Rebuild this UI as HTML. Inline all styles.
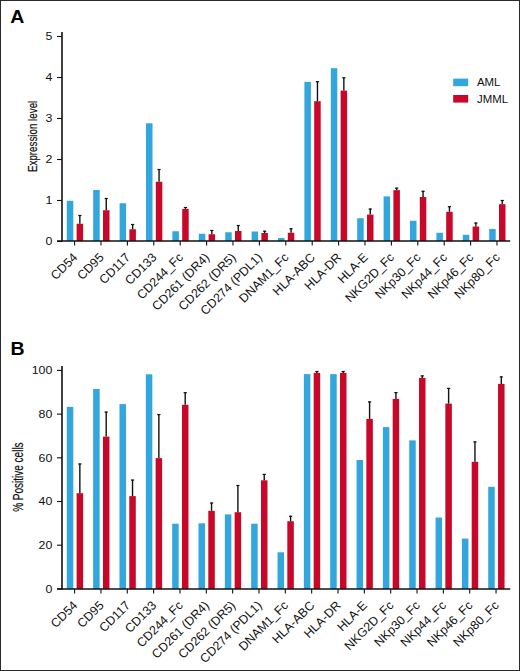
<!DOCTYPE html>
<html><head><meta charset="utf-8"><style>
html,body{margin:0;padding:0;background:#fff;width:520px;height:671px;overflow:hidden;font-family:"Liberation Sans",sans-serif;}
</style></head><body>
<svg width="520" height="671" viewBox="0 0 520 671" style="display:block">
<rect x="0" y="0" width="520" height="671" fill="#fff"/>
<g font-family="Liberation Sans, sans-serif" fill="#111">
<rect x="66.80" y="200.80" width="6.5" height="40.20" fill="#33a6dd"/>
<rect x="76.60" y="223.75" width="6.5" height="17.25" fill="#c70828"/>
<line x1="79.85" y1="215.00" x2="79.85" y2="223.75" stroke="#111" stroke-width="1.4"/>
<line x1="78.25" y1="215.50" x2="81.45" y2="215.50" stroke="#111" stroke-width="1.2"/>
<rect x="93.20" y="190.00" width="6.5" height="51.00" fill="#33a6dd"/>
<rect x="103.00" y="210.25" width="6.5" height="30.75" fill="#c70828"/>
<line x1="106.25" y1="198.00" x2="106.25" y2="210.25" stroke="#111" stroke-width="1.4"/>
<line x1="104.65" y1="198.50" x2="107.85" y2="198.50" stroke="#111" stroke-width="1.2"/>
<rect x="119.60" y="203.25" width="6.5" height="37.75" fill="#33a6dd"/>
<rect x="129.40" y="229.25" width="6.5" height="11.75" fill="#c70828"/>
<line x1="132.65" y1="224.00" x2="132.65" y2="229.25" stroke="#111" stroke-width="1.4"/>
<line x1="131.05" y1="224.50" x2="134.25" y2="224.50" stroke="#111" stroke-width="1.2"/>
<rect x="146.00" y="123.30" width="6.5" height="117.70" fill="#33a6dd"/>
<rect x="155.80" y="181.75" width="6.5" height="59.25" fill="#c70828"/>
<line x1="159.05" y1="169.00" x2="159.05" y2="181.75" stroke="#111" stroke-width="1.4"/>
<line x1="157.45" y1="169.50" x2="160.65" y2="169.50" stroke="#111" stroke-width="1.2"/>
<rect x="172.40" y="231.25" width="6.5" height="9.75" fill="#33a6dd"/>
<rect x="182.20" y="209.00" width="6.5" height="32.00" fill="#c70828"/>
<line x1="185.45" y1="207.00" x2="185.45" y2="209.00" stroke="#111" stroke-width="1.4"/>
<line x1="183.85" y1="207.50" x2="187.05" y2="207.50" stroke="#111" stroke-width="1.2"/>
<rect x="198.80" y="233.75" width="6.5" height="7.25" fill="#33a6dd"/>
<rect x="208.60" y="234.25" width="6.5" height="6.75" fill="#c70828"/>
<line x1="211.85" y1="230.00" x2="211.85" y2="234.25" stroke="#111" stroke-width="1.4"/>
<line x1="210.25" y1="230.50" x2="213.45" y2="230.50" stroke="#111" stroke-width="1.2"/>
<rect x="225.20" y="232.25" width="6.5" height="8.75" fill="#33a6dd"/>
<rect x="235.00" y="231.00" width="6.5" height="10.00" fill="#c70828"/>
<line x1="238.25" y1="225.00" x2="238.25" y2="231.00" stroke="#111" stroke-width="1.4"/>
<line x1="236.65" y1="225.50" x2="239.85" y2="225.50" stroke="#111" stroke-width="1.2"/>
<rect x="251.60" y="231.50" width="6.5" height="9.50" fill="#33a6dd"/>
<rect x="261.40" y="233.00" width="6.5" height="8.00" fill="#c70828"/>
<line x1="264.65" y1="230.75" x2="264.65" y2="233.00" stroke="#111" stroke-width="1.4"/>
<line x1="263.05" y1="231.25" x2="266.25" y2="231.25" stroke="#111" stroke-width="1.2"/>
<rect x="278.00" y="238.00" width="6.5" height="3.00" fill="#33a6dd"/>
<rect x="287.80" y="232.75" width="6.5" height="8.25" fill="#c70828"/>
<line x1="291.05" y1="228.25" x2="291.05" y2="232.75" stroke="#111" stroke-width="1.4"/>
<line x1="289.45" y1="228.75" x2="292.65" y2="228.75" stroke="#111" stroke-width="1.2"/>
<rect x="304.40" y="81.90" width="6.5" height="159.10" fill="#33a6dd"/>
<rect x="314.20" y="101.20" width="6.5" height="139.80" fill="#c70828"/>
<line x1="317.45" y1="81.20" x2="317.45" y2="101.20" stroke="#111" stroke-width="1.4"/>
<line x1="315.85" y1="81.70" x2="319.05" y2="81.70" stroke="#111" stroke-width="1.2"/>
<rect x="330.80" y="68.20" width="6.5" height="172.80" fill="#33a6dd"/>
<rect x="340.60" y="90.60" width="6.5" height="150.40" fill="#c70828"/>
<line x1="343.85" y1="77.30" x2="343.85" y2="90.60" stroke="#111" stroke-width="1.4"/>
<line x1="342.25" y1="77.80" x2="345.45" y2="77.80" stroke="#111" stroke-width="1.2"/>
<rect x="357.20" y="218.20" width="6.5" height="22.80" fill="#33a6dd"/>
<rect x="367.00" y="214.60" width="6.5" height="26.40" fill="#c70828"/>
<line x1="370.25" y1="208.60" x2="370.25" y2="214.60" stroke="#111" stroke-width="1.4"/>
<line x1="368.65" y1="209.10" x2="371.85" y2="209.10" stroke="#111" stroke-width="1.2"/>
<rect x="383.60" y="196.40" width="6.5" height="44.60" fill="#33a6dd"/>
<rect x="393.40" y="190.10" width="6.5" height="50.90" fill="#c70828"/>
<line x1="396.65" y1="187.70" x2="396.65" y2="190.10" stroke="#111" stroke-width="1.4"/>
<line x1="395.05" y1="188.20" x2="398.25" y2="188.20" stroke="#111" stroke-width="1.2"/>
<rect x="410.00" y="220.80" width="6.5" height="20.20" fill="#33a6dd"/>
<rect x="419.80" y="197.00" width="6.5" height="44.00" fill="#c70828"/>
<line x1="423.05" y1="190.80" x2="423.05" y2="197.00" stroke="#111" stroke-width="1.4"/>
<line x1="421.45" y1="191.30" x2="424.65" y2="191.30" stroke="#111" stroke-width="1.2"/>
<rect x="436.40" y="232.80" width="6.5" height="8.20" fill="#33a6dd"/>
<rect x="446.20" y="211.80" width="6.5" height="29.20" fill="#c70828"/>
<line x1="449.45" y1="206.20" x2="449.45" y2="211.80" stroke="#111" stroke-width="1.4"/>
<line x1="447.85" y1="206.70" x2="451.05" y2="206.70" stroke="#111" stroke-width="1.2"/>
<rect x="462.80" y="234.80" width="6.5" height="6.20" fill="#33a6dd"/>
<rect x="472.60" y="226.50" width="6.5" height="14.50" fill="#c70828"/>
<line x1="475.85" y1="222.60" x2="475.85" y2="226.50" stroke="#111" stroke-width="1.4"/>
<line x1="474.25" y1="223.10" x2="477.45" y2="223.10" stroke="#111" stroke-width="1.2"/>
<rect x="489.20" y="229.00" width="6.5" height="12.00" fill="#33a6dd"/>
<rect x="499.00" y="204.20" width="6.5" height="36.80" fill="#c70828"/>
<line x1="502.25" y1="200.00" x2="502.25" y2="204.20" stroke="#111" stroke-width="1.4"/>
<line x1="500.65" y1="200.50" x2="503.85" y2="200.50" stroke="#111" stroke-width="1.2"/>
<line x1="62" y1="32" x2="62" y2="241.5" stroke="#111" stroke-width="1.6"/>
<line x1="57" y1="241" x2="510.2" y2="241" stroke="#111" stroke-width="1.7"/>
<line x1="57" y1="241.50" x2="62" y2="241.50" stroke="#111" stroke-width="1.1"/>
<text x="0" y="0" transform="translate(52.3,245.20) scale(1.2,1)" text-anchor="end" font-size="10.3">0</text>
<line x1="57" y1="200.50" x2="62" y2="200.50" stroke="#111" stroke-width="1.1"/>
<text x="0" y="0" transform="translate(52.3,204.20) scale(1.2,1)" text-anchor="end" font-size="10.3">1</text>
<line x1="57" y1="159.50" x2="62" y2="159.50" stroke="#111" stroke-width="1.1"/>
<text x="0" y="0" transform="translate(52.3,163.20) scale(1.2,1)" text-anchor="end" font-size="10.3">2</text>
<line x1="57" y1="118.50" x2="62" y2="118.50" stroke="#111" stroke-width="1.1"/>
<text x="0" y="0" transform="translate(52.3,122.20) scale(1.2,1)" text-anchor="end" font-size="10.3">3</text>
<line x1="57" y1="77.50" x2="62" y2="77.50" stroke="#111" stroke-width="1.1"/>
<text x="0" y="0" transform="translate(52.3,81.20) scale(1.2,1)" text-anchor="end" font-size="10.3">4</text>
<line x1="57" y1="36.50" x2="62" y2="36.50" stroke="#111" stroke-width="1.1"/>
<text x="0" y="0" transform="translate(52.3,40.20) scale(1.2,1)" text-anchor="end" font-size="10.3">5</text>
<line x1="74.60" y1="241" x2="74.60" y2="245.5" stroke="#111" stroke-width="1.1"/>
<line x1="101.00" y1="241" x2="101.00" y2="245.5" stroke="#111" stroke-width="1.1"/>
<line x1="127.40" y1="241" x2="127.40" y2="245.5" stroke="#111" stroke-width="1.1"/>
<line x1="153.80" y1="241" x2="153.80" y2="245.5" stroke="#111" stroke-width="1.1"/>
<line x1="180.20" y1="241" x2="180.20" y2="245.5" stroke="#111" stroke-width="1.1"/>
<line x1="206.60" y1="241" x2="206.60" y2="245.5" stroke="#111" stroke-width="1.1"/>
<line x1="233.00" y1="241" x2="233.00" y2="245.5" stroke="#111" stroke-width="1.1"/>
<line x1="259.40" y1="241" x2="259.40" y2="245.5" stroke="#111" stroke-width="1.1"/>
<line x1="285.80" y1="241" x2="285.80" y2="245.5" stroke="#111" stroke-width="1.1"/>
<line x1="312.20" y1="241" x2="312.20" y2="245.5" stroke="#111" stroke-width="1.1"/>
<line x1="338.60" y1="241" x2="338.60" y2="245.5" stroke="#111" stroke-width="1.1"/>
<line x1="365.00" y1="241" x2="365.00" y2="245.5" stroke="#111" stroke-width="1.1"/>
<line x1="391.40" y1="241" x2="391.40" y2="245.5" stroke="#111" stroke-width="1.1"/>
<line x1="417.80" y1="241" x2="417.80" y2="245.5" stroke="#111" stroke-width="1.1"/>
<line x1="444.20" y1="241" x2="444.20" y2="245.5" stroke="#111" stroke-width="1.1"/>
<line x1="470.60" y1="241" x2="470.60" y2="245.5" stroke="#111" stroke-width="1.1"/>
<line x1="497.00" y1="241" x2="497.00" y2="245.5" stroke="#111" stroke-width="1.1"/>
<text x="0" y="0" transform="translate(78.20,258.20) rotate(-45) scale(1.0,1)" text-anchor="end" font-size="12.4">CD54</text>
<text x="0" y="0" transform="translate(104.60,258.20) rotate(-45) scale(1.0,1)" text-anchor="end" font-size="12.4">CD95</text>
<text x="0" y="0" transform="translate(131.00,258.20) rotate(-45) scale(1.0,1)" text-anchor="end" font-size="12.4">CD117</text>
<text x="0" y="0" transform="translate(157.40,258.20) rotate(-45) scale(1.0,1)" text-anchor="end" font-size="12.4">CD133</text>
<text x="0" y="0" transform="translate(183.80,258.20) rotate(-45) scale(1.0,1)" text-anchor="end" font-size="12.4">CD244_Fc</text>
<text x="0" y="0" transform="translate(210.20,258.20) rotate(-45) scale(1.0,1)" text-anchor="end" font-size="12.4">CD261 (DR4)</text>
<text x="0" y="0" transform="translate(236.60,258.20) rotate(-45) scale(1.0,1)" text-anchor="end" font-size="12.4">CD262 (DR5)</text>
<text x="0" y="0" transform="translate(263.00,258.20) rotate(-45) scale(1.0,1)" text-anchor="end" font-size="12.4">CD274 (PDL1)</text>
<text x="0" y="0" transform="translate(289.40,258.20) rotate(-45) scale(1.0,1)" text-anchor="end" font-size="12.4">DNAM1_Fc</text>
<text x="0" y="0" transform="translate(315.80,258.20) rotate(-45) scale(1.0,1)" text-anchor="end" font-size="12.4">HLA-ABC</text>
<text x="0" y="0" transform="translate(342.20,258.20) rotate(-45) scale(1.0,1)" text-anchor="end" font-size="12.4">HLA-DR</text>
<text x="0" y="0" transform="translate(368.60,258.20) rotate(-45) scale(1.0,1)" text-anchor="end" font-size="12.4">HLA-E</text>
<text x="0" y="0" transform="translate(395.00,258.20) rotate(-45) scale(1.0,1)" text-anchor="end" font-size="12.4">NKG2D_Fc</text>
<text x="0" y="0" transform="translate(421.40,258.20) rotate(-45) scale(1.0,1)" text-anchor="end" font-size="12.4">NKp30_Fc</text>
<text x="0" y="0" transform="translate(447.80,258.20) rotate(-45) scale(1.0,1)" text-anchor="end" font-size="12.4">NKp44_Fc</text>
<text x="0" y="0" transform="translate(474.20,258.20) rotate(-45) scale(1.0,1)" text-anchor="end" font-size="12.4">NKp46_Fc</text>
<text x="0" y="0" transform="translate(500.60,258.20) rotate(-45) scale(1.0,1)" text-anchor="end" font-size="12.4">NKp80_Fc</text>
<rect x="66.80" y="406.90" width="6.5" height="182.10" fill="#33a6dd"/>
<rect x="76.60" y="493.20" width="6.5" height="95.80" fill="#c70828"/>
<line x1="79.85" y1="463.50" x2="79.85" y2="493.20" stroke="#111" stroke-width="1.4"/>
<line x1="78.25" y1="464.00" x2="81.45" y2="464.00" stroke="#111" stroke-width="1.2"/>
<rect x="93.14" y="389.00" width="6.5" height="200.00" fill="#33a6dd"/>
<rect x="102.94" y="436.60" width="6.5" height="152.40" fill="#c70828"/>
<line x1="106.19" y1="411.60" x2="106.19" y2="436.60" stroke="#111" stroke-width="1.4"/>
<line x1="104.59" y1="412.10" x2="107.79" y2="412.10" stroke="#111" stroke-width="1.2"/>
<rect x="119.48" y="404.10" width="6.5" height="184.90" fill="#33a6dd"/>
<rect x="129.28" y="496.10" width="6.5" height="92.90" fill="#c70828"/>
<line x1="132.53" y1="479.60" x2="132.53" y2="496.10" stroke="#111" stroke-width="1.4"/>
<line x1="130.93" y1="480.10" x2="134.13" y2="480.10" stroke="#111" stroke-width="1.2"/>
<rect x="145.82" y="374.30" width="6.5" height="214.70" fill="#33a6dd"/>
<rect x="155.62" y="458.10" width="6.5" height="130.90" fill="#c70828"/>
<line x1="158.87" y1="414.10" x2="158.87" y2="458.10" stroke="#111" stroke-width="1.4"/>
<line x1="157.27" y1="414.60" x2="160.47" y2="414.60" stroke="#111" stroke-width="1.2"/>
<rect x="172.16" y="523.70" width="6.5" height="65.30" fill="#33a6dd"/>
<rect x="181.96" y="404.80" width="6.5" height="184.20" fill="#c70828"/>
<line x1="185.21" y1="392.20" x2="185.21" y2="404.80" stroke="#111" stroke-width="1.4"/>
<line x1="183.61" y1="392.70" x2="186.81" y2="392.70" stroke="#111" stroke-width="1.2"/>
<rect x="198.50" y="523.30" width="6.5" height="65.70" fill="#33a6dd"/>
<rect x="208.30" y="510.80" width="6.5" height="78.20" fill="#c70828"/>
<line x1="211.55" y1="502.50" x2="211.55" y2="510.80" stroke="#111" stroke-width="1.4"/>
<line x1="209.95" y1="503.00" x2="213.15" y2="503.00" stroke="#111" stroke-width="1.2"/>
<rect x="224.84" y="514.40" width="6.5" height="74.60" fill="#33a6dd"/>
<rect x="234.64" y="512.20" width="6.5" height="76.80" fill="#c70828"/>
<line x1="237.89" y1="485.00" x2="237.89" y2="512.20" stroke="#111" stroke-width="1.4"/>
<line x1="236.29" y1="485.50" x2="239.49" y2="485.50" stroke="#111" stroke-width="1.2"/>
<rect x="251.18" y="523.70" width="6.5" height="65.30" fill="#33a6dd"/>
<rect x="260.98" y="480.30" width="6.5" height="108.70" fill="#c70828"/>
<line x1="264.23" y1="473.90" x2="264.23" y2="480.30" stroke="#111" stroke-width="1.4"/>
<line x1="262.63" y1="474.40" x2="265.83" y2="474.40" stroke="#111" stroke-width="1.2"/>
<rect x="277.52" y="552.30" width="6.5" height="36.70" fill="#33a6dd"/>
<rect x="287.32" y="521.20" width="6.5" height="67.80" fill="#c70828"/>
<line x1="290.57" y1="515.80" x2="290.57" y2="521.20" stroke="#111" stroke-width="1.4"/>
<line x1="288.97" y1="516.30" x2="292.17" y2="516.30" stroke="#111" stroke-width="1.2"/>
<rect x="303.86" y="374.10" width="6.5" height="214.90" fill="#33a6dd"/>
<rect x="313.66" y="372.90" width="6.5" height="216.10" fill="#c70828"/>
<line x1="316.91" y1="371.00" x2="316.91" y2="372.90" stroke="#111" stroke-width="1.4"/>
<line x1="315.31" y1="371.50" x2="318.51" y2="371.50" stroke="#111" stroke-width="1.2"/>
<rect x="330.20" y="374.10" width="6.5" height="214.90" fill="#33a6dd"/>
<rect x="340.00" y="372.90" width="6.5" height="216.10" fill="#c70828"/>
<line x1="343.25" y1="371.00" x2="343.25" y2="372.90" stroke="#111" stroke-width="1.4"/>
<line x1="341.65" y1="371.50" x2="344.85" y2="371.50" stroke="#111" stroke-width="1.2"/>
<rect x="356.54" y="460.00" width="6.5" height="129.00" fill="#33a6dd"/>
<rect x="366.34" y="418.90" width="6.5" height="170.10" fill="#c70828"/>
<line x1="369.59" y1="401.40" x2="369.59" y2="418.90" stroke="#111" stroke-width="1.4"/>
<line x1="367.99" y1="401.90" x2="371.19" y2="401.90" stroke="#111" stroke-width="1.2"/>
<rect x="382.88" y="427.10" width="6.5" height="161.90" fill="#33a6dd"/>
<rect x="392.68" y="398.90" width="6.5" height="190.10" fill="#c70828"/>
<line x1="395.93" y1="392.10" x2="395.93" y2="398.90" stroke="#111" stroke-width="1.4"/>
<line x1="394.33" y1="392.60" x2="397.53" y2="392.60" stroke="#111" stroke-width="1.2"/>
<rect x="409.22" y="440.40" width="6.5" height="148.60" fill="#33a6dd"/>
<rect x="419.02" y="377.90" width="6.5" height="211.10" fill="#c70828"/>
<line x1="422.27" y1="375.40" x2="422.27" y2="377.90" stroke="#111" stroke-width="1.4"/>
<line x1="420.67" y1="375.90" x2="423.87" y2="375.90" stroke="#111" stroke-width="1.2"/>
<rect x="435.56" y="517.50" width="6.5" height="71.50" fill="#33a6dd"/>
<rect x="445.36" y="403.60" width="6.5" height="185.40" fill="#c70828"/>
<line x1="448.61" y1="387.90" x2="448.61" y2="403.60" stroke="#111" stroke-width="1.4"/>
<line x1="447.01" y1="388.40" x2="450.21" y2="388.40" stroke="#111" stroke-width="1.2"/>
<rect x="461.90" y="538.60" width="6.5" height="50.40" fill="#33a6dd"/>
<rect x="471.70" y="461.80" width="6.5" height="127.20" fill="#c70828"/>
<line x1="474.95" y1="441.40" x2="474.95" y2="461.80" stroke="#111" stroke-width="1.4"/>
<line x1="473.35" y1="441.90" x2="476.55" y2="441.90" stroke="#111" stroke-width="1.2"/>
<rect x="488.24" y="486.80" width="6.5" height="102.20" fill="#33a6dd"/>
<rect x="498.04" y="383.90" width="6.5" height="205.10" fill="#c70828"/>
<line x1="501.29" y1="376.40" x2="501.29" y2="383.90" stroke="#111" stroke-width="1.4"/>
<line x1="499.69" y1="376.90" x2="502.89" y2="376.90" stroke="#111" stroke-width="1.2"/>
<line x1="62" y1="366" x2="62" y2="589.5" stroke="#111" stroke-width="1.6"/>
<line x1="57" y1="589" x2="510.2" y2="589" stroke="#111" stroke-width="1.7"/>
<line x1="57" y1="588.90" x2="62" y2="588.90" stroke="#111" stroke-width="1.1"/>
<text x="0" y="0" transform="translate(52.3,592.60) scale(1.2,1)" text-anchor="end" font-size="10.3">0</text>
<line x1="57" y1="545.20" x2="62" y2="545.20" stroke="#111" stroke-width="1.1"/>
<text x="0" y="0" transform="translate(52.3,548.90) scale(1.2,1)" text-anchor="end" font-size="10.3">20</text>
<line x1="57" y1="501.50" x2="62" y2="501.50" stroke="#111" stroke-width="1.1"/>
<text x="0" y="0" transform="translate(52.3,505.20) scale(1.2,1)" text-anchor="end" font-size="10.3">40</text>
<line x1="57" y1="457.80" x2="62" y2="457.80" stroke="#111" stroke-width="1.1"/>
<text x="0" y="0" transform="translate(52.3,461.50) scale(1.2,1)" text-anchor="end" font-size="10.3">60</text>
<line x1="57" y1="414.10" x2="62" y2="414.10" stroke="#111" stroke-width="1.1"/>
<text x="0" y="0" transform="translate(52.3,417.80) scale(1.2,1)" text-anchor="end" font-size="10.3">80</text>
<line x1="57" y1="370.40" x2="62" y2="370.40" stroke="#111" stroke-width="1.1"/>
<text x="0" y="0" transform="translate(52.3,374.10) scale(1.2,1)" text-anchor="end" font-size="10.3">100</text>
<line x1="74.60" y1="589" x2="74.60" y2="593.5" stroke="#111" stroke-width="1.1"/>
<line x1="100.94" y1="589" x2="100.94" y2="593.5" stroke="#111" stroke-width="1.1"/>
<line x1="127.28" y1="589" x2="127.28" y2="593.5" stroke="#111" stroke-width="1.1"/>
<line x1="153.62" y1="589" x2="153.62" y2="593.5" stroke="#111" stroke-width="1.1"/>
<line x1="179.96" y1="589" x2="179.96" y2="593.5" stroke="#111" stroke-width="1.1"/>
<line x1="206.30" y1="589" x2="206.30" y2="593.5" stroke="#111" stroke-width="1.1"/>
<line x1="232.64" y1="589" x2="232.64" y2="593.5" stroke="#111" stroke-width="1.1"/>
<line x1="258.98" y1="589" x2="258.98" y2="593.5" stroke="#111" stroke-width="1.1"/>
<line x1="285.32" y1="589" x2="285.32" y2="593.5" stroke="#111" stroke-width="1.1"/>
<line x1="311.66" y1="589" x2="311.66" y2="593.5" stroke="#111" stroke-width="1.1"/>
<line x1="338.00" y1="589" x2="338.00" y2="593.5" stroke="#111" stroke-width="1.1"/>
<line x1="364.34" y1="589" x2="364.34" y2="593.5" stroke="#111" stroke-width="1.1"/>
<line x1="390.68" y1="589" x2="390.68" y2="593.5" stroke="#111" stroke-width="1.1"/>
<line x1="417.02" y1="589" x2="417.02" y2="593.5" stroke="#111" stroke-width="1.1"/>
<line x1="443.36" y1="589" x2="443.36" y2="593.5" stroke="#111" stroke-width="1.1"/>
<line x1="469.70" y1="589" x2="469.70" y2="593.5" stroke="#111" stroke-width="1.1"/>
<line x1="496.04" y1="589" x2="496.04" y2="593.5" stroke="#111" stroke-width="1.1"/>
<text x="0" y="0" transform="translate(78.20,606.20) rotate(-45) scale(1.0,1)" text-anchor="end" font-size="12.4">CD54</text>
<text x="0" y="0" transform="translate(104.54,606.20) rotate(-45) scale(1.0,1)" text-anchor="end" font-size="12.4">CD95</text>
<text x="0" y="0" transform="translate(130.88,606.20) rotate(-45) scale(1.0,1)" text-anchor="end" font-size="12.4">CD117</text>
<text x="0" y="0" transform="translate(157.22,606.20) rotate(-45) scale(1.0,1)" text-anchor="end" font-size="12.4">CD133</text>
<text x="0" y="0" transform="translate(183.56,606.20) rotate(-45) scale(1.0,1)" text-anchor="end" font-size="12.4">CD244_Fc</text>
<text x="0" y="0" transform="translate(209.90,606.20) rotate(-45) scale(1.0,1)" text-anchor="end" font-size="12.4">CD261 (DR4)</text>
<text x="0" y="0" transform="translate(236.24,606.20) rotate(-45) scale(1.0,1)" text-anchor="end" font-size="12.4">CD262 (DR5)</text>
<text x="0" y="0" transform="translate(262.58,606.20) rotate(-45) scale(1.0,1)" text-anchor="end" font-size="12.4">CD274 (PDL1)</text>
<text x="0" y="0" transform="translate(288.92,606.20) rotate(-45) scale(1.0,1)" text-anchor="end" font-size="12.4">DNAM1_Fc</text>
<text x="0" y="0" transform="translate(315.26,606.20) rotate(-45) scale(1.0,1)" text-anchor="end" font-size="12.4">HLA-ABC</text>
<text x="0" y="0" transform="translate(341.60,606.20) rotate(-45) scale(1.0,1)" text-anchor="end" font-size="12.4">HLA-DR</text>
<text x="0" y="0" transform="translate(367.94,606.20) rotate(-45) scale(1.0,1)" text-anchor="end" font-size="12.4">HLA-E</text>
<text x="0" y="0" transform="translate(394.28,606.20) rotate(-45) scale(1.0,1)" text-anchor="end" font-size="12.4">NKG2D_Fc</text>
<text x="0" y="0" transform="translate(420.62,606.20) rotate(-45) scale(1.0,1)" text-anchor="end" font-size="12.4">NKp30_Fc</text>
<text x="0" y="0" transform="translate(446.96,606.20) rotate(-45) scale(1.0,1)" text-anchor="end" font-size="12.4">NKp44_Fc</text>
<text x="0" y="0" transform="translate(473.30,606.20) rotate(-45) scale(1.0,1)" text-anchor="end" font-size="12.4">NKp46_Fc</text>
<text x="0" y="0" transform="translate(499.64,606.20) rotate(-45) scale(1.0,1)" text-anchor="end" font-size="12.4">NKp80_Fc</text>
<text transform="translate(36.9,136.4) scale(1.36,1) rotate(-90)" text-anchor="middle" font-size="9.8" stroke="#111" stroke-width="0.15">Expression level</text>
<text transform="translate(23.1,477.1) scale(1.38,1) rotate(-90)" text-anchor="middle" font-size="10" stroke="#111" stroke-width="0.15">% Positive cells</text>
<rect x="453.2" y="78.6" width="15" height="7.6" fill="#33a6dd"/>
<rect x="453.2" y="95" width="15" height="7.6" fill="#c70828"/>
<text transform="translate(477,86.3) scale(1.12,1)" font-size="10.2">AML</text>
<text transform="translate(477,102.6) scale(1.12,1)" font-size="10.2">JMML</text>
<text transform="translate(10.2,22.6) scale(1.1,1)" font-size="17.7" font-weight="bold" fill="#000">A</text>
<text transform="translate(10.6,354.8) scale(1.1,1)" font-size="17.7" font-weight="bold" fill="#000">B</text>
</g>
<rect x="0.5" y="0.5" width="519" height="670" fill="none" stroke="#2a2a2a" stroke-width="1"/>
</svg>
</body></html>
